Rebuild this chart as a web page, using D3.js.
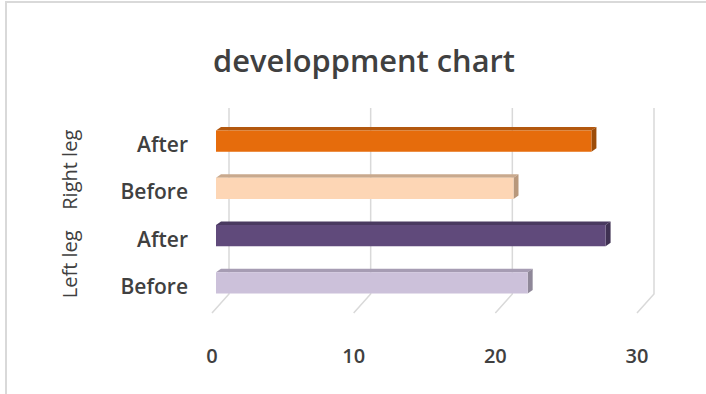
<!DOCTYPE html>
<html>
<head>
<meta charset="utf-8">
<script src="https://cdn.jsdelivr.net/npm/d3@7"></script>
<style>
  body { margin: 0; background: #fff; }
  svg { display: block; font-family: "Open Sans", sans-serif; }
</style>
</head>
<body>
<svg id="chart"></svg>
<script>
const width = 706;
const height = 394;

// data, top row first
const categories = ["Right After", "Right Before", "Left After", "Left Before"];
const barLabels = ["After", "Before", "After", "Before"];
const values = [26.5, 21, 27.5, 22];
const groups = ["Right leg", "Left leg"];
const tickValues = [0, 10, 20, 30];

const frontColors = ["#e66c0c", "#fdd6b5", "#604a7b", "#ccc1da"];
const topColors = ["#b3580e", "#c9a98d", "#4a3a60", "#a69cb3"];
const sideColors = ["#9c4c08", "#b8987c", "#3f3152", "#8f8899"];

const svg = d3.select("#chart")
  .attr("width", width)
  .attr("height", height);

// chart border
svg.append("rect")
  .attr("x", 6)
  .attr("y", 2)
  .attr("width", width)
  .attr("height", height)
  .attr("fill", "#fff")
  .attr("stroke", "#d9d9d9")
  .attr("stroke-width", 2);

// back wall scale and the floor offset
const xBack = d3.scaleLinear().domain([0, 30]).range([229, 654]);
const floorDx = -17, floorDy = 19;
const wallTop = 108, wallBottom = 294;

// bars sit a bit in front of the wall
const xBar = d3.scaleLinear().domain([0, 30]).range([216, 641]);
const depthX = 5, depthY = -3.5;

const y = d3.scaleBand()
  .domain(categories)
  .range([117.5, 306.5])
  .paddingInner(0.55)
  .paddingOuter(0.275);

// gridlines: vertical on the back wall, then a slanted floor piece
svg.append("g")
  .selectAll("path")
  .data(tickValues)
  .join("path")
  .attr("d", d => {
    const x = xBack(d);
    return `M${x},${wallTop}V${wallBottom}L${x + floorDx},${wallBottom + floorDy}`;
  })
  .attr("fill", "none")
  .attr("stroke", "#d9d9d9")
  .attr("stroke-width", 1.5);

// tick labels at the front edge of the floor
svg.append("g")
  .selectAll("text")
  .data(tickValues)
  .join("text")
  .attr("x", d => xBack(d) + floorDx)
  .attr("y", 363)
  .attr("text-anchor", "middle")
  .attr("fill", "#404040")
  .attr("font-size", 20)
  .attr("font-weight", 600)
  .text(d => d);

// 3d bars
const bars = svg.append("g")
  .selectAll("g")
  .data(categories)
  .join("g");

bars.append("path")
  .attr("d", (d, i) => {
    const x0 = xBar(0), x1 = xBar(values[i]), y0 = y(d);
    return `M${x0},${y0}L${x0 + depthX},${y0 + depthY}H${x1 + depthX}L${x1},${y0}Z`;
  })
  .attr("fill", (d, i) => topColors[i]);

bars.append("path")
  .attr("d", (d, i) => {
    const x1 = xBar(values[i]), y0 = y(d), h = y.bandwidth();
    return `M${x1},${y0}L${x1 + depthX},${y0 + depthY}V${y0 + depthY + h}L${x1},${y0 + h}Z`;
  })
  .attr("fill", (d, i) => sideColors[i]);

bars.append("rect")
  .attr("x", xBar(0))
  .attr("y", d => y(d))
  .attr("width", (d, i) => xBar(values[i]) - xBar(0))
  .attr("height", y.bandwidth())
  .attr("fill", (d, i) => frontColors[i]);

// category labels
svg.append("g")
  .selectAll("text")
  .data(categories)
  .join("text")
  .attr("x", 188)
  .attr("y", d => y(d) + y.bandwidth() / 2 + 11)
  .attr("text-anchor", "end")
  .attr("fill", "#404040")
  .attr("font-size", 21)
  .attr("font-weight", 600)
  .text((d, i) => barLabels[i]);

// outer group labels, rotated
svg.append("g")
  .selectAll("text")
  .data(groups)
  .join("text")
  .attr("transform", (d, i) => {
    const cy = (y(categories[i * 2]) + y(categories[i * 2 + 1]) + y.bandwidth()) / 2 + 5;
    return `translate(77,${cy}) rotate(-90)`;
  })
  .attr("text-anchor", "middle")
  .attr("fill", "#404040")
  .attr("font-size", 20)
  .text(d => d);

// title
svg.append("text")
  .attr("x", 364)
  .attr("y", 72)
  .attr("text-anchor", "middle")
  .attr("fill", "#404040")
  .attr("font-size", 31)
  .attr("font-weight", 600)
  .attr("textLength", 302)
  .attr("lengthAdjust", "spacingAndGlyphs")
  .text("developpment chart");
</script>
</body>
</html>
